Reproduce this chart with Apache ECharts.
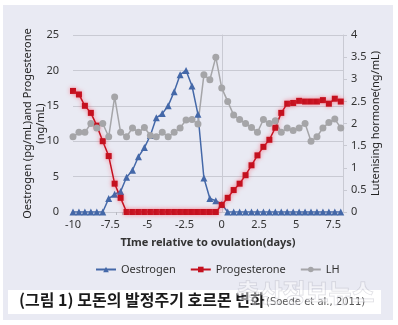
<!DOCTYPE html>
<html>
<head>
<meta charset="utf-8">
<script src="https://cdn.jsdelivr.net/npm/echarts@6/dist/echarts.min.js"></script>
<style>
  html, body { margin: 0; padding: 0; background: #ffffff; }
  #chart { width: 398px; height: 325px; }
</style>
</head>
<body>
<div id="chart"></div>
<script>
// Sampling times relative to ovulation (days)
const days = [
  -10, -9.6, -9.2, -8.8, -8.4, -8, -7.6, -7.2, -6.8, -6.4,
  -6, -5.6, -5.2, -4.8, -4.4, -4, -3.6, -3.2, -2.8, -2.4,
  -2, -1.6, -1.2, -0.8, -0.4, 0, 0.4, 0.8, 1.2, 1.6,
  2, 2.4, 2.8, 3.2, 3.6, 4, 4.4, 4.8, 5.2, 5.6,
  6, 6.4, 6.8, 7.2, 7.6, 8
];

// Oestrogen (pg/mL)
const oestrogen = [
  0, 0, 0, 0, 0, 0, 1.9, 2.5, 2.9, 4.9,
  5.9, 7.8, 9.1, 10.8, 13.3, 13.9, 15.0, 17.0, 19.4, 20.0,
  17.8, 13.8, 4.8, 1.9, 1.6, 1.1, 0, 0, 0, 0,
  0, 0, 0, 0, 0, 0, 0, 0, 0, 0,
  0, 0, 0, 0, 0, 0
];

// Progesterone (ng/mL)
const progesterone = [
  17.1, 16.6, 15.0, 14.0, 12.2, 10.0, 7.9, 4.0, 2.0, 0,
  0, 0, 0, 0, 0, 0, 0, 0, 0, 0,
  0, 0, 0, 0, 0, 1.0, 2.0, 3.1, 4.0, 5.2,
  6.6, 8.0, 9.2, 10.2, 11.9, 14.0, 15.3, 15.4, 15.7, 15.6,
  15.6, 15.6, 15.8, 15.3, 16.0, 15.6
];

// Luteinising hormone (ng/mL), right axis
const lh = [
  1.70, 1.80, 1.80, 2.00, 1.90, 2.00, 1.70, 2.60, 1.80, 1.70,
  1.90, 1.80, 1.91, 1.73, 1.70, 1.80, 1.70, 1.80, 1.90, 2.08,
  2.09, 1.99, 3.10, 2.99, 3.50, 2.80, 2.50, 2.19, 2.09, 2.00,
  1.91, 1.80, 2.09, 2.00, 2.06, 1.80, 1.90, 1.84, 1.90, 2.00,
  1.60, 1.70, 1.90, 2.02, 2.10, 1.90
];

const leftTicks = { min: 0, max: 25, interval: 5 };
const rightTicks = { min: 0, max: 4, interval: 0.5 };
const dayTicks = { min: -10, max: 8.15, interval: 2.5 };

const pairs = (vals) => days.map((d, i) => [d, vals[i]]);

const font = '"Noto Sans", "Open Sans", sans-serif';
const textColor = '#333333';
const gridColor = '#c9cad3';
const panel = '#e9eaf3';

const chart = echarts.init(document.getElementById('chart'), null, { renderer: 'canvas' });

chart.setOption({
  backgroundColor: panel,
  animation: false,
  textStyle: { fontFamily: font },
  grid: { left: 73, right: 55, top: 35, bottom: 113 },
  legend: {
    left: 90, top: 259,
    itemWidth: 20, itemHeight: 7, itemGap: 14,
    textStyle: { fontSize: 11, color: textColor, fontFamily: font },
    data: ['Oestrogen', 'Progesterone', 'LH']
  },
  xAxis: {
    type: 'value',
    min: dayTicks.min, max: dayTicks.max, interval: dayTicks.interval,
    name: 'TIme relative to ovulation(days)',
    nameLocation: 'middle', nameGap: 25, nameMoveOverlap: false,
    nameTextStyle: { fontSize: 11, fontWeight: 'bold', color: textColor, fontFamily: font },
    axisLine: { show: true, onZero: false, lineStyle: { color: gridColor, width: 1 } },
    axisTick: { show: false },
    minorTick: { show: true, splitNumber: 6, length: 3, lineStyle: { color: '#b8b9c2' } },
    splitLine: { show: false },
    axisLabel: {
      fontSize: 11, color: textColor, margin: 7, showMaxLabel: false,
      formatter: (v) => (Math.abs(v / 2.5 - Math.round(v / 2.5)) < 1e-6 ? String(v) : '')
    }
  },
  yAxis: [
    {
      type: 'value',
      min: leftTicks.min, max: leftTicks.max, interval: leftTicks.interval,
      name: 'Oestrogen (pg/mL)and Progesterone\n(ng/mL)',
      nameLocation: 'middle', nameGap: 26, nameRotate: 90, nameMoveOverlap: false,
      nameTextStyle: { fontSize: 11, color: '#222222', lineHeight: 13, fontFamily: font },
      axisLine: { show: true, lineStyle: { color: gridColor } },
      axisTick: { show: false },
      splitLine: { show: true, lineStyle: { color: gridColor, width: 1 } },
      axisLabel: { fontSize: 11, color: textColor, margin: 14 }
    },
    {
      type: 'value',
      position: 'right',
      min: rightTicks.min, max: rightTicks.max, interval: rightTicks.interval,
      name: 'Lutenising hormone(ng/mL)',
      nameLocation: 'middle', nameGap: 27, nameRotate: 90, nameMoveOverlap: false,
      nameTextStyle: { fontSize: 11, color: '#222222', fontFamily: font },
      axisLine: { show: true, lineStyle: { color: gridColor } },
      axisTick: { show: true, length: 4, lineStyle: { color: gridColor } },
      splitLine: { show: false },
      axisLabel: { fontSize: 11, color: textColor, margin: 8 }
    }
  ],
  series: [
    {
      name: 'Oestrogen', type: 'line', yAxisIndex: 0,
      data: pairs(oestrogen),
      symbol: 'triangle', symbolSize: 7,
      color: '#4468a8',
      lineStyle: { width: 1.5, color: '#4468a8' },
      itemStyle: { color: '#4468a8' }
    },
    {
      name: 'Progesterone', type: 'line', yAxisIndex: 0,
      data: pairs(progesterone),
      symbol: 'rect', symbolSize: 6,
      color: '#c4111f',
      lineStyle: { width: 1.5, color: '#c4111f', shadowBlur: 4, shadowColor: 'rgba(255,70,90,0.55)' },
      itemStyle: { color: '#c4111f', shadowBlur: 4, shadowColor: 'rgba(255,70,90,0.55)' }
    },
    {
      name: 'LH', type: 'line', yAxisIndex: 1,
      data: pairs(lh),
      symbol: 'circle', symbolSize: 7,
      color: '#a5a5a8',
      lineStyle: { width: 1.5, color: '#a5a5a8' },
      itemStyle: { color: '#a5a5a8' }
    }
  ],
  graphic: [
    // white border round the panel
    { type: 'rect', shape: { x: 0, y: 0, width: 398, height: 5 }, style: { fill: '#ffffff' }, silent: true },
    { type: 'rect', shape: { x: 0, y: 0, width: 3, height: 325 }, style: { fill: '#ffffff' }, silent: true },
    { type: 'rect', shape: { x: 393, y: 0, width: 5, height: 325 }, style: { fill: '#ffffff' }, silent: true },
    { type: 'rect', shape: { x: 0, y: 320, width: 398, height: 5 }, style: { fill: '#ffffff' }, silent: true },
    // caption box
    { type: 'rect', shape: { x: 8, y: 290, width: 373, height: 24 }, style: { fill: '#ffffff' }, silent: true },
    {
      type: 'text', left: 19, top: 292, silent: true,
      style: {
        text: '(그림 1) 모돈의 발정주기 호르몬 변화',
        fontSize: 16, fontWeight: 'bold', fill: '#1a1a1a',
        fontFamily: '"Noto Sans CJK KR", sans-serif'
      }
    },
    {
      type: 'text', left: 266, top: 297, silent: true,
      style: {
        text: '(Soede et al., 2011)',
        fontSize: 10, fill: '#555555',
        fontFamily: '"DejaVu Sans", sans-serif'
      }
    },
    {
      type: 'text', left: 236, top: 279, silent: true, z: 10,
      style: {
        text: '축산정보뉴스',
        fontSize: 25, fontWeight: 'bold',
        fill: 'rgba(255,255,255,0.45)', stroke: 'rgba(150,150,165,0.35)', lineWidth: 1,
        fontFamily: '"Noto Sans CJK KR", sans-serif'
      }
    }
  ]
});
</script>
</body>
</html>
